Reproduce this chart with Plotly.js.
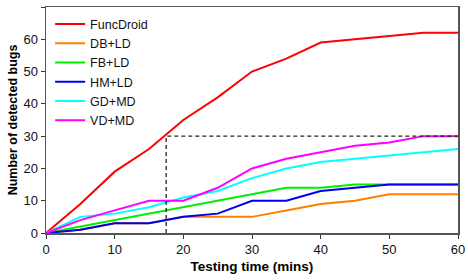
<!DOCTYPE html>
<html><head><meta charset="utf-8">
<script src="https://cdn.plot.ly/plotly-3.0.1.min.js"></script>
<style>html,body{margin:0;padding:0;background:#fff}#chart{width:468px;height:280px}</style>
</head><body><div id="chart"></div>
<script>
const times = [0,5,10,15,20,25,30,35,40,45,50,55,60];
const seriesNames = ["FuncDroid","DB+LD","FB+LD","HM+LD","GD+MD","VD+MD"];
const funcDroid = [0,9,19,26,35,42,50,54,59,60,61,62,62];
const dbLd = [0,1,3,3,5,5,5,7,9,10,12,12,12];
const fbLd = [0,2,4,6,8,10,12,14,14,15,15,15,15];
const hmLd = [0,1,3,3,5,6,10,10,13,14,15,15,15];
const gdMd = [0,5,6,8,11,13,17,20,22,23,24,25,26];
const vdMd = [0,4,7,10,10,14,20,23,25,27,28,30,30];
const boxX = [17.5,17.5,60];
const boxY = [0,30,30];
const colors = ["#ff0000","#ff8000","#00ee00","#0000ee","#00ffff","#ff00ff"];
const values = [funcDroid,dbLd,fbLd,hmLd,gdMd,vdMd];
const traces = values.map((v,i)=>({x:times,y:v,name:seriesNames[i],mode:"lines",line:{color:colors[i],width:2}}));
traces.push({x:boxX,y:boxY,mode:"lines",showlegend:false,line:{color:"#222",width:1.3,dash:"4px,3px"},hoverinfo:"skip"});
const f = "Liberation Sans, Arial, sans-serif";
Plotly.newPlot("chart",traces,{
  width:468,height:280,
  margin:{l:46,r:10,t:7,b:47},
  paper_bgcolor:"#fff",plot_bgcolor:"#fff",
  font:{family:f,size:12,color:"#000"},
  showlegend:true,
  legend:{x:0.01,y:0.99,xanchor:"left",yanchor:"top",bgcolor:"rgba(0,0,0,0)",font:{size:12.5,color:"#111"},tracegroupgap:0,itemwidth:30},
  xaxis:{range:[0,60],dtick:10,showgrid:false,zeroline:false,showline:true,mirror:true,linecolor:"#555",linewidth:1.5,ticks:"outside",ticklen:4,tickcolor:"#333",tickfont:{size:13,color:"#111"},title:{text:"<b>Testing time (mins)</b>",font:{size:13.5},standoff:5}},
  yaxis:{range:[0,70],dtick:10,showgrid:false,zeroline:false,showline:true,mirror:true,linecolor:"#555",linewidth:1.5,ticks:"outside",ticklen:4,tickcolor:"#333",tickfont:{size:13,color:"#111"},title:{text:"<b>Number of detected bugs</b>",font:{size:12.5},standoff:3}}
},{displayModeBar:false,staticPlot:true});
</script></body></html>
